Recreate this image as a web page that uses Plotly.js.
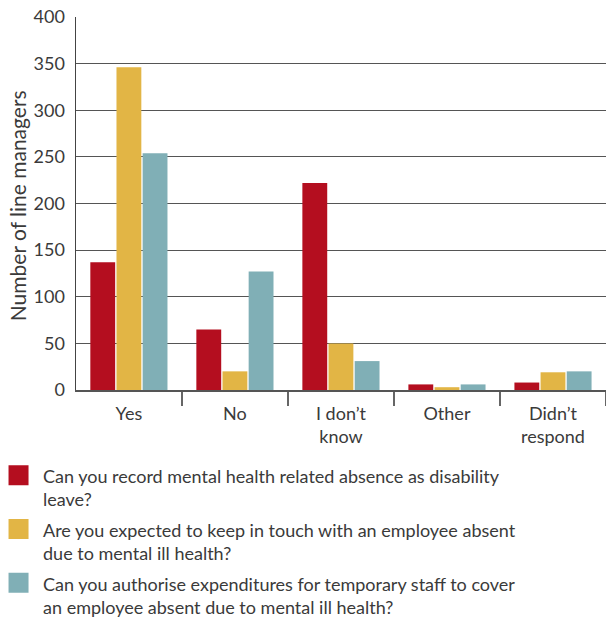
<!DOCTYPE html>
<html>
<head>
<meta charset="utf-8">
<script src="https://cdn.plot.ly/plotly-3.0.1.min.js"></script>
<style>
  html, body { margin: 0; padding: 0; background: #ffffff; }
  #chart { width: 606px; height: 617px; }
</style>
</head>
<body>
<div id="chart"></div>
<script>
// Answer categories along the x axis
const categories = ['Yes', 'No', 'I don’t<br>know', 'Other', 'Didn’t<br>respond'];

// Questions put to line managers (legend labels, wrapped)
const questionRecord = 'Can you record mental health related absence as disability<br>leave?';
const questionKeepInTouch = 'Are you expected to keep in touch with an employee absent<br>due to mental ill health?';
const questionAuthorise = 'Can you authorise expenditures for temporary staff to cover<br>an employee absent due to mental ill health?';

// Number of line managers giving each answer
const recordValues = [137, 65, 222, 6, 8];
const keepInTouchValues = [346, 20, 50, 3, 19];
const authoriseValues = [254, 127, 31, 6, 20];

// Y axis ticks
const yTickValues = [0, 50, 100, 150, 200, 250, 300, 350, 400];
const yAxisTitle = 'Number of line managers';

const textColor = '#3a3a3a';
const baseFont = 'Lato, Liberation Sans, Arial, sans-serif';

const traces = [
  { name: questionRecord, y: recordValues, color: '#b40e1f', group: 'record' },
  { name: questionKeepInTouch, y: keepInTouchValues, color: '#e2b545', group: 'touch' },
  { name: questionAuthorise, y: authoriseValues, color: '#80afb6', group: 'authorise' }
].map(s => ({
  type: 'bar',
  x: categories,
  y: s.y,
  name: s.name,
  legendgroup: s.group,
  marker: { color: s.color, line: { width: 0 } },
  hoverinfo: 'x+y'
}));

const layout = {
  width: 606,
  height: 617,
  margin: { l: 76, r: 0, t: 17, b: 227, autoexpand: false },
  paper_bgcolor: '#ffffff',
  plot_bgcolor: '#ffffff',
  font: { family: baseFont, size: 17, color: textColor },
  barmode: 'group',
  bargap: 0.26,
  bargroupgap: 0.05,
  showlegend: true,
  legend: {
    orientation: 'v',
    xref: 'container',
    yref: 'container',
    x: 0.005,
    y: 0.258,
    xanchor: 'left',
    yanchor: 'top',
    font: { family: baseFont, size: 18, color: textColor },
    bgcolor: 'rgba(0,0,0,0)',
    traceorder: 'grouped',
    tracegroupgap: 4
  },
  xaxis: {
    type: 'category',
    range: [-0.499, 4.5],
    tickson: 'boundaries',
    ticks: 'outside',
    ticklen: 14,
    tickwidth: 1.5,
    tickcolor: '#666666',
    ticklabelstandoff: 6,
    showline: true,
    linecolor: '#555555',
    linewidth: 2,
    showgrid: false,
    tickfont: { family: baseFont, size: 18, color: textColor },
    automargin: false,
    fixedrange: true
  },
  yaxis: {
    range: [0, 400],
    tickvals: yTickValues,
    ticktext: yTickValues.map(String),
    showline: true,
    linecolor: '#444444',
    linewidth: 1.5,
    showgrid: true,
    gridcolor: '#555555',
    gridwidth: 1,
    zeroline: false,
    ticks: '',
    ticklabelstandoff: 6,
    tickfont: { family: baseFont, size: 18, color: textColor },
    automargin: false,
    fixedrange: true
  },
  annotations: [{
    // y axis title, set beside the tick labels
    text: yAxisTitle,
    xref: 'paper',
    yref: 'paper',
    x: -0.111,
    y: 0.493,
    xanchor: 'center',
    yanchor: 'middle',
    textangle: -90,
    showarrow: false,
    font: { family: baseFont, size: 21, color: textColor }
  }]
};

Plotly.newPlot('chart', traces, layout, { displayModeBar: false, staticPlot: true }).then(gd => {
  // square legend swatches, 20px across, level with the first text line
  gd.querySelectorAll('.legend .legendpoints path').forEach(p => {
    p.setAttribute('d', 'M5.5,-2.5H-14.5V-22.5H5.5Z');
  });
});
</script>
</body>
</html>
